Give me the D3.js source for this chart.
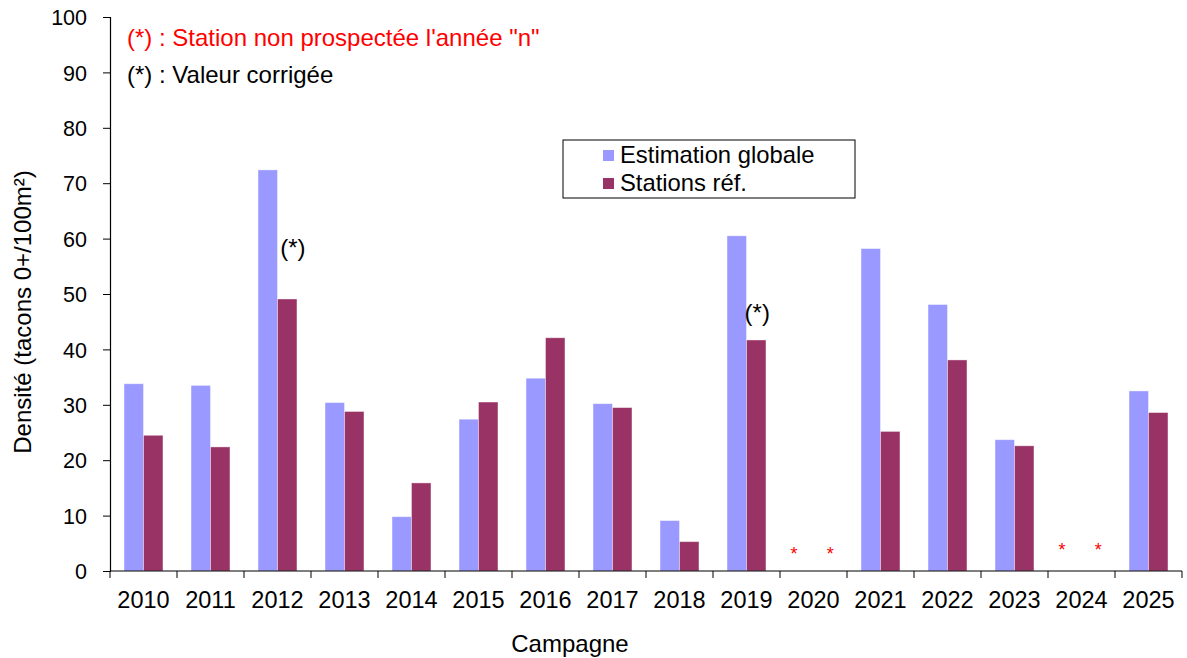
<!DOCTYPE html>
<html>
<head>
<meta charset="utf-8">
<script src="https://cdn.jsdelivr.net/npm/d3@7"></script>
<style>
  body { margin: 0; background: #fff; }
  svg text { font-family: "Liberation Sans", Arial, sans-serif; }
</style>
</head>
<body>
<div id="chart"></div>
<script>
const years = ["2010", "2011", "2012", "2013", "2014", "2015", "2016", "2017",
  "2018", "2019", "2020", "2021", "2022", "2023", "2024", "2025"];
const seriesNames = ["Estimation globale", "Stations réf."];
const globale = [33.8, 33.5, 72.4, 30.4, 9.8, 27.4, 34.8, 30.2, 9.1, 60.5, null, 58.2, 48.1, 23.7, null, 32.5];
const stationsRef = [24.5, 22.4, 49.1, 28.8, 15.9, 30.5, 42.1, 29.5, 5.3, 41.7, null, 25.2, 38.1, 22.6, null, 28.6];
const yTicks = [0, 10, 20, 30, 40, 50, 60, 70, 80, 90, 100];
// annotations "(*)" : valeur corrigée
const corrected = [{ year: "2012", pos: 0.73, value: 58.3 }, { year: "2019", pos: 0.66, value: 46.7 }];
// stations non prospectées (red stars)
const notSurveyed = [
  { year: "2020", pos: 0.21, value: 4.3 }, { year: "2020", pos: 0.75, value: 4.3 },
  { year: "2024", pos: 0.21, value: 4.9 }, { year: "2024", pos: 0.75, value: 4.9 }
];
const colors = ["#9999FF", "#993366"];

const width = 1187, height = 658;
const margin = { top: 17, right: 5, bottom: 87, left: 110 };

const svg = d3.select("#chart").append("svg")
  .attr("width", width)
  .attr("height", height);

const x = d3.scaleBand()
  .domain(years)
  .range([margin.left, margin.left + 67 * years.length])
  .padding(0);

const x1 = d3.scaleBand()
  .domain(d3.range(seriesNames.length))
  .range([0, x.bandwidth()])
  .paddingInner(0)
  .paddingOuter(0.72);

const y = d3.scaleLinear()
  .domain([0, 100])
  .range([height - margin.bottom, margin.top]);

const rows = years.map((yr, i) => ({ year: yr, values: [globale[i], stationsRef[i]] }));

// bars
const groups = svg.append("g").selectAll("g")
  .data(rows)
  .join("g")
  .attr("transform", d => `translate(${x(d.year)},0)`);

groups.selectAll("rect")
  .data(d => d.values.map((v, k) => ({ k, v })).filter(e => e.v !== null))
  .join("rect")
  .attr("x", d => x1(d.k))
  .attr("y", d => y(d.v))
  .attr("width", x1.bandwidth())
  .attr("height", d => y(0) - y(d.v))
  .attr("fill", d => colors[d.k])
  .attr("stroke", "rgba(255,255,255,0.5)")
  .attr("stroke-width", 0.8);

// y axis
const yAxis = svg.append("g")
  .attr("transform", `translate(${margin.left},0)`)
  .call(d3.axisLeft(y).tickValues(yTicks).tickSize(7).tickPadding(16));
yAxis.select(".domain").attr("stroke", "#000").attr("stroke-width", 1.2);
yAxis.selectAll(".tick line").attr("stroke", "#000");
yAxis.selectAll(".tick text")
  .attr("font-size", 21.5)
  .attr("fill", "#000")
  .attr("dy", "0.36em");

// x axis : labels at band centres, ticks at band boundaries
const xAxis = svg.append("g")
  .attr("transform", `translate(0,${y(0)})`)
  .call(d3.axisBottom(x).tickSize(0).tickPadding(20));
xAxis.select(".domain").remove();
xAxis.selectAll(".tick text")
  .attr("font-size", 23.5)
  .attr("fill", "#000");

svg.append("line")
  .attr("x1", margin.left)
  .attr("x2", x.range()[1])
  .attr("y1", y(0))
  .attr("y2", y(0))
  .attr("stroke", "#000")
  .attr("stroke-width", 1.2);

svg.append("g").selectAll("line")
  .data(years.map(yr => x(yr)).concat([x.range()[1]]))
  .join("line")
  .attr("x1", d => d)
  .attr("x2", d => d)
  .attr("y1", y(0))
  .attr("y2", y(0) + 7)
  .attr("stroke", "#000");

// axis titles
svg.append("text")
  .attr("x", 570)
  .attr("y", 652)
  .attr("text-anchor", "middle")
  .attr("font-size", 24)
  .text("Campagne");

svg.append("text")
  .attr("transform", `translate(31,${(y(0) + y(100)) / 2 + 18}) rotate(-90)`)
  .attr("text-anchor", "middle")
  .attr("font-size", 24)
  .text("Densité (tacons 0+/100m²)");

// notes
svg.append("text")
  .attr("x", 127)
  .attr("y", 46)
  .attr("font-size", 24)
  .attr("fill", "#FF0000")
  .text("(*) : Station non prospectée l'année \"n\"");

svg.append("text")
  .attr("x", 127)
  .attr("y", 83)
  .attr("font-size", 24)
  .attr("fill", "#000")
  .text("(*) : Valeur corrigée");

// annotations
svg.append("g").selectAll("text")
  .data(corrected)
  .join("text")
  .attr("x", d => x(d.year) + x.bandwidth() * d.pos)
  .attr("y", d => y(d.value))
  .attr("dy", "0.35em")
  .attr("text-anchor", "middle")
  .attr("font-size", 24)
  .text("(*)");

svg.append("g").selectAll("text")
  .data(notSurveyed)
  .join("text")
  .attr("x", d => x(d.year) + x.bandwidth() * d.pos)
  .attr("y", d => y(d.value))
  .attr("dy", "0.7em")
  .attr("text-anchor", "middle")
  .attr("font-size", 18)
  .attr("fill", "#FF0000")
  .text("*");

// legend
const legend = svg.append("g").attr("transform", "translate(563,140)");
legend.append("rect")
  .attr("width", 292)
  .attr("height", 58)
  .attr("fill", "#fff")
  .attr("stroke", "#000")
  .attr("stroke-width", 1);

seriesNames.forEach((name, i) => {
  legend.append("rect")
    .attr("x", 40)
    .attr("y", 10 + i * 28)
    .attr("width", 11)
    .attr("height", 11)
    .attr("fill", colors[i]);
  legend.append("text")
    .attr("x", 57)
    .attr("y", 23 + i * 28)
    .attr("font-size", 23.8)
    .text(name);
});
</script>
</body>
</html>
